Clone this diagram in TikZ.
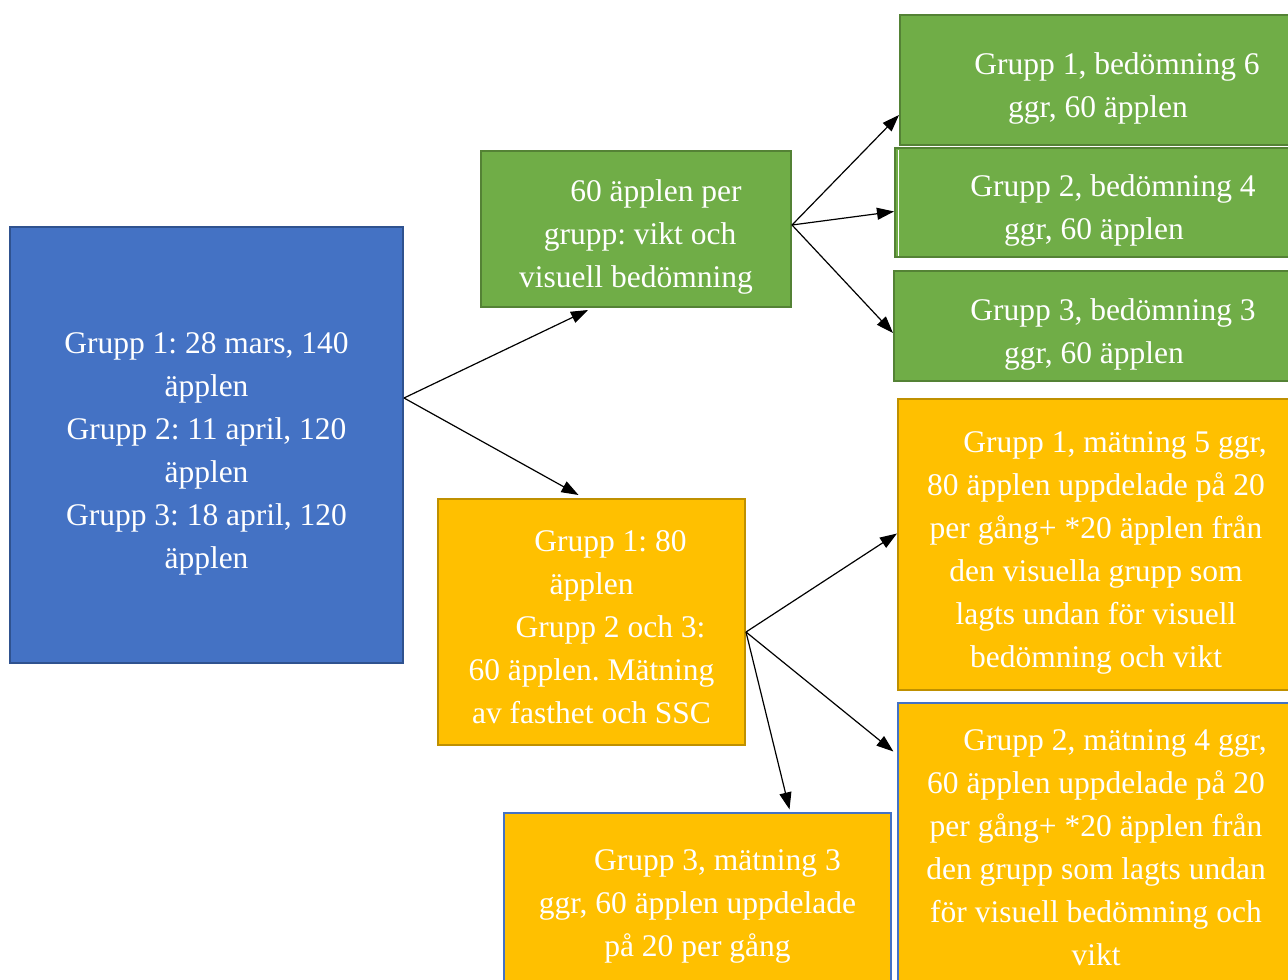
\documentclass[tikz,border=0pt]{standalone}
\usepackage{fontspec}
\setmainfont{Liberation Serif}
\usetikzlibrary{arrows.meta}
\definecolor{bluefill}{HTML}{4472C4}
\definecolor{blueline}{HTML}{2F528F}
\definecolor{greenfill}{HTML}{70AD47}
\definecolor{greenline}{HTML}{548235}
\definecolor{orangefill}{HTML}{FFC000}
\definecolor{orangeline}{HTML}{BF9000}
\newcommand{\boxtxt}[1]{\raisebox{-7pt}[\height][\depth]{\begin{tabular}{@{}c@{}}#1\end{tabular}}}
\begin{document}
\begin{tikzpicture}[x=1pt,y=-1pt,
  box/.style={rectangle, inner sep=0pt, text=white,
    font=\fontsize{31.5}{43}\selectfont\frenchspacing, line width=2pt},
  bluebox/.style={box, fill=bluefill, draw=blueline},
  greenbox/.style={box, fill=greenfill, draw=greenline},
  orangebox/.style={box, fill=orangefill, draw=orangeline},
  orangeblue/.style={box, fill=orangefill, draw=bluefill, line width=1.2pt},
  conn/.style={draw=black, line width=1.2pt, -{Triangle[length=17pt,width=12pt]}}]
\useasboundingbox (0,0) rectangle (1288,980);
\fill[white] (0,0) rectangle (1288,980);

\node[bluebox, minimum width=393pt, minimum height=436pt] (blue) at (206.5,445)
  {\boxtxt{Grupp 1: 28 mars, 140\\äpplen\\Grupp 2: 11 april, 120\\äpplen\\Grupp 3: 18 april, 120\\äpplen}};

\node[greenbox, minimum width=310pt, minimum height=156pt] (gm) at (636,229)
  {\boxtxt{\hspace*{40pt}60 äpplen per\\\hspace*{8pt}grupp: vikt och\\visuell bedömning}};

\node[greenbox, minimum width=396pt, minimum height=130pt] (g1) at (1098,80)
  {\boxtxt{\hspace*{38pt}Grupp 1, bedömning 6\\ggr, 60 äpplen}};
\node[greenbox, minimum width=398pt, minimum height=109pt] (g2) at (1094,202.5)
  {\boxtxt{\hspace*{38pt}Grupp 2, bedömning 4\\ggr, 60 äpplen}};
\draw[white, line width=1.2pt] (898.5,150) -- (898.5,255.5);
\node[greenbox, minimum width=400pt, minimum height=110pt] (g3) at (1094,326)
  {\boxtxt{\hspace*{38pt}Grupp 3, bedömning 3\\ggr, 60 äpplen}};

\node[orangebox, minimum width=307pt, minimum height=246pt] (om) at (591.5,622)
  {\boxtxt{\hspace*{38pt}Grupp 1: 80\\äpplen\\\hspace*{38pt}Grupp 2 och 3:\\60 äpplen. Mätning\\av fasthet och SSC}};

\node[orangebox, minimum width=396pt, minimum height=291pt] (o1) at (1096,544.5)
  {\boxtxt{\hspace*{38pt}Grupp 1, mätning 5 ggr,\\80 äpplen uppdelade på 20\\per gång+ *20 äpplen från\\den visuella grupp som\\lagts undan för visuell\\bedömning och vikt}};

\node[orangeblue, minimum width=396pt, minimum height=279pt] (o2) at (1096,842.5)
  {\boxtxt{\hspace*{38pt}Grupp 2, mätning 4 ggr,\\60 äpplen uppdelade på 20\\per gång+ *20 äpplen från\\den grupp som lagts undan\\för visuell bedömning och\\vikt}};

\node[orangeblue, minimum width=387pt, minimum height=169pt] (ob) at (697.5,897.5)
  {\boxtxt{\hspace*{40pt}Grupp 3, mätning 3\\ggr, 60 äpplen uppdelade\\på 20 per gång}};

\path[conn] ([yshift=47pt]blue.east) -- ([xshift=-48pt,yshift=-2pt]gm.south);
\path[conn] ([yshift=47pt]blue.east) -- ([xshift=-13pt,yshift=3pt]om.north);
\path[conn] ([yshift=4pt]gm.east) -- ([yshift=-35pt]g1.west);
\path[conn] ([yshift=4pt]gm.east) -- ([yshift=-9pt]g2.west);
\path[conn] ([yshift=4pt]gm.east) -- ([yshift=-7pt]g3.west);
\path[conn] ([yshift=-10pt]om.east) -- ([yshift=11pt]o1.west);
\path[conn] ([yshift=-10pt]om.east) -- ([xshift=-4pt,yshift=91pt]o2.west);
\path[conn] ([yshift=-10pt]om.east) -- ([xshift=92pt,yshift=3pt]ob.north);
\end{tikzpicture}
\end{document}
